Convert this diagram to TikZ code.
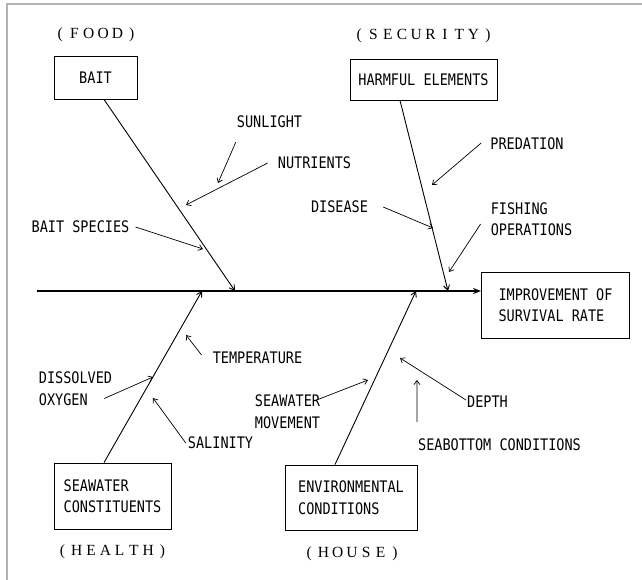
\documentclass[tikz,border=0pt]{standalone}
\usepackage{fontspec}
\setmainfont{Liberation Serif}
\newfontfamily\plotfont[FakeStretch=0.85]{DejaVu Sans Mono}
\usetikzlibrary{arrows.meta}

% fixed pitch for the bracketed headings
\def\spreadtag#1{\spreadone#1\relax}
\def\spreadone#1{\ifx#1\relax\else\makebox[14.3pt]{#1}\expandafter\spreadone\fi}

\begin{document}
\begin{tikzpicture}[x=1pt, y=-1pt,
    cause/.style={draw, line width=0.9pt, inner sep=0pt, align=left,
                  font=\plotfont\fontsize{15.9}{21.5}\selectfont},
    factor/.style={inner sep=2pt, align=left,
                   font=\plotfont\fontsize{15.9}{21.5}\selectfont},
    tag/.style={inner sep=0pt, anchor=base, font=\fontsize{15.5}{18}\selectfont},
    feed/.style={-{Straight Barb[length=4pt, width=6pt]}, line width=0.7pt},
    bone/.style={-{Straight Barb[length=5pt, width=6pt]}, line width=0.9pt},
    spine/.style={-{Stealth[length=8pt, width=6pt]}, line width=1.8pt}]

    \useasboundingbox (0,0) rectangle (642,580);

    % ── Frame (top and left edge only) ───────────────────────────────────────
    \draw[gray!60, line width=1.2pt] (642,4) -- (7,4) -- (7,580);

    % ── Main boxes ───────────────────────────────────────────────────────────
    \node[cause, minimum width=83pt, minimum height=43pt] (bait) at (95.5,77.5) {BAIT};
    \node[cause, minimum width=147pt, minimum height=41pt] (harm) at (423.5,79.5) {HARMFUL ELEMENTS};
    \node[cause, minimum width=148pt, minimum height=66pt] (goal) at (555.5,305) {IMPROVEMENT OF\\SURVIVAL RATE};
    \node[cause, minimum width=117pt, minimum height=66pt] (water) at (112.5,496) {SEAWATER\\CONSTITUENTS};
    \node[cause, minimum width=132pt, minimum height=65pt] (env) at (351,497.5) {ENVIRONMENTAL\\CONDITIONS};

    % ── Headings ─────────────────────────────────────────────────────────────
    \node[tag] (food) at (96,39) {\spreadtag{(FOOD)}};
    \node[tag] (security) at (423.5,40) {\spreadtag{(SECURITY)}};
    \node[tag] (health) at (112.5,555) {\spreadtag{(HEALTH)}};
    \node[tag] (house) at (352,557) {\spreadtag{(HOUSE)}};

    % ── Spine ────────────────────────────────────────────────────────────────
    \coordinate (tail) at (37,291);
    \draw[spine] (tail) -- (tail -| goal.west);

    % ── Bones onto the spine ─────────────────────────────────────────────────
    \foreach \n/\x in {j1/235, j2/448, j3/202, j4/416}
        \coordinate (\n) at (\x,291);
    \draw[bone] ([xshift=8.5pt]bait.south) -- (j1);
    \draw[bone] ([xshift=-23.5pt]harm.south) -- (j2);
    \draw[bone] ([xshift=-8.5pt]water.north) -- (j3);
    \draw[bone] ([xshift=-16pt]env.north) -- (j4);

    % ── Factors ──────────────────────────────────────────────────────────────
    \node[factor] (sun) at (269.5,122) {SUNLIGHT};
    \node[factor] (nutr) at (314.5,163) {NUTRIENTS};
    \node[factor] (species) at (80.5,227) {BAIT SPECIES};
    \node[factor] (pred) at (527,144) {PREDATION};
    \node[factor] (dis) at (339.5,207) {DISEASE};
    \node[factor] (fish) at (531.5,219) {FISHING\\OPERATIONS};
    \node[factor] (temp) at (257.5,358) {TEMPERATURE};
    \node[factor] (oxy) at (75.5,388.5) {DISSOLVED\\OXYGEN};
    \node[factor] (sal) at (220.5,443) {SALINITY};
    \node[factor] (move) at (287.5,411.5) {SEAWATER\\MOVEMENT};
    \node[factor] (depth) at (487.5,402) {DEPTH};
    \node[factor] (bottom) at (499.5,445) {SEABOTTOM CONDITIONS};

    % arrow tips of the factors
    \foreach \n/\x/\y in {sun/218/183, nutr/186/205, species/203/249,
                          pred/432/185, dis/433/228, fish/449/272,
                          temp/186/335, oxy/153/377, sal/153/398,
                          move/368/380, depth/400/358, bottom/417/380}
        \coordinate (\n-tip) at (\x,\y);

    % ── Factor arrows ────────────────────────────────────────────────────────
    \draw[feed] ([shift={(1,12)}]sun.south west) -- (sun-tip);
    \draw[feed] ([shift={(-8,0)}]nutr.west) -- (nutr-tip);
    \draw[feed] ([shift={(4,0)}]species.east) -- (species-tip);
    \draw[feed] ([shift={(-7,-1)}]pred.west) -- (pred-tip);
    \draw[feed] ([shift={(13,0)}]dis.east) -- (dis-tip);
    \draw[feed] ([shift={(-8,5)}]fish.west) -- (fish-tip);
    \draw[feed] ([shift={(-9,-3)}]temp.west) -- (temp-tip);
    \draw[feed] ([shift={(-10,-9)}]oxy.south east) -- (oxy-tip);
    \draw[feed] (sal.west) -- (sal-tip);
    \draw[feed] ([shift={(-7,8)}]move.north east) -- (move-tip);
    \draw[feed] ([shift={(1,-2)}]depth.west) -- (depth-tip);
    \draw[feed] ([shift={(1,-15)}]bottom.north west) -- (bottom-tip);

\end{tikzpicture}
\end{document}
